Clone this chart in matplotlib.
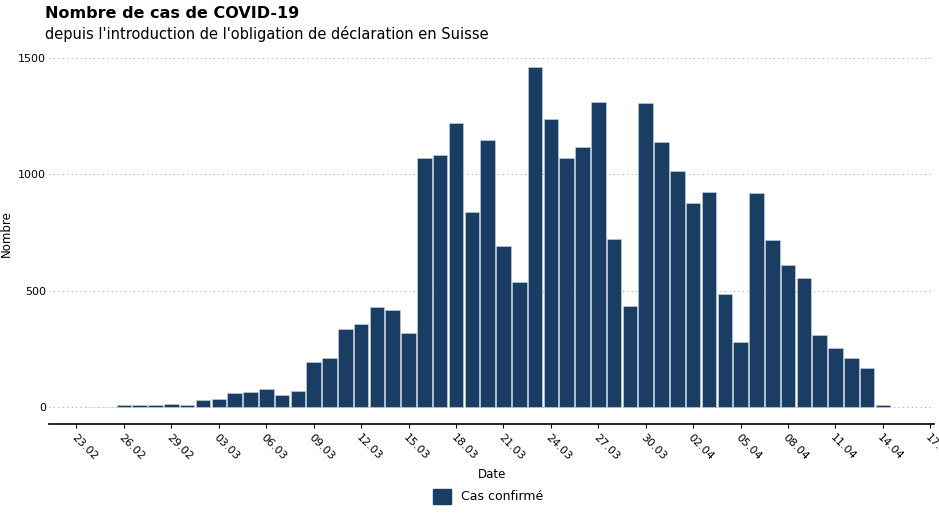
import matplotlib

matplotlib.use("Agg")
import matplotlib.pyplot as plt
import matplotlib.dates as mdates
import numpy as np
import pandas as pd
from matplotlib.patches import Patch

BAR_COLOR = "#1a3d63"

dates = pd.date_range("2020-02-24", "2020-04-14", freq="D")
cases = [
    1, 1, 10, 8, 10, 12,  # 24.02 - 29.02
    10, 30, 33, 60, 62, 75, 50, 68, 195, 210,  # 01.03 - 10.03
    335, 358, 428, 418, 318, 1072, 1083, 1220, 838, 1148,  # 11.03 - 20.03
    692, 537, 1463, 1240, 1072, 1117, 1310, 720, 433, 1307, 1140,  # 21.03 - 31.03
    1015, 876, 925, 487, 278, 918, 716, 612, 554, 310,  # 01.04 - 10.04
    255, 210, 168, 8,  # 11.04 - 14.04
]
tick_dates = pd.date_range("2020-02-23", "2020-04-17", freq="3D")

fig = plt.figure(figsize=(9.39, 5.2), dpi=100)
ax = fig.add_axes([0.052, 0.185, 0.943, 0.73])

ax.bar(dates, cases, width=0.92, color=BAR_COLOR, edgecolor="#c8d8ea", linewidth=0.4)

ax.set_xlim(pd.Timestamp("2020-02-21 06:00"), pd.Timestamp("2020-04-17 06:00"))
ax.set_ylim(-73, 1560)
ax.set_yticks([0, 500, 1000, 1500])
ax.set_xticks(tick_dates)
ax.xaxis.set_major_formatter(mdates.DateFormatter("%d.%m"))
plt.setp(ax.get_xticklabels(), rotation=-45, ha="left", rotation_mode="anchor")
ax.tick_params(axis="both", labelsize=8, length=3)
ax.tick_params(axis="y", length=0, pad=2)

ax.grid(axis="y", linestyle=(0, (1, 3)), color="#aaaaaa", linewidth=0.8)
ax.set_axisbelow(True)
for side in ["top", "right", "left"]:
    ax.spines[side].set_visible(False)
ax.spines["bottom"].set_linewidth(1.2)

ax.set_xlabel("Date", fontsize=8.5)
ax.set_ylabel("Nombre", fontsize=8.5, labelpad=4)

fig.text(0.048, 0.965, "Nombre de cas de COVID-19", fontsize=11.5, fontweight="bold")
fig.text(0.048, 0.925, "depuis l'introduction de l'obligation de déclaration en Suisse", fontsize=10.5)

fig.legend(handles=[Patch(color=BAR_COLOR, label="Cas confirmé")], loc="lower center",
           bbox_to_anchor=(0.52, 0.01), frameon=False, fontsize=9, handlelength=1.4, handleheight=1.4)

fig.savefig("out.png", dpi=100)
